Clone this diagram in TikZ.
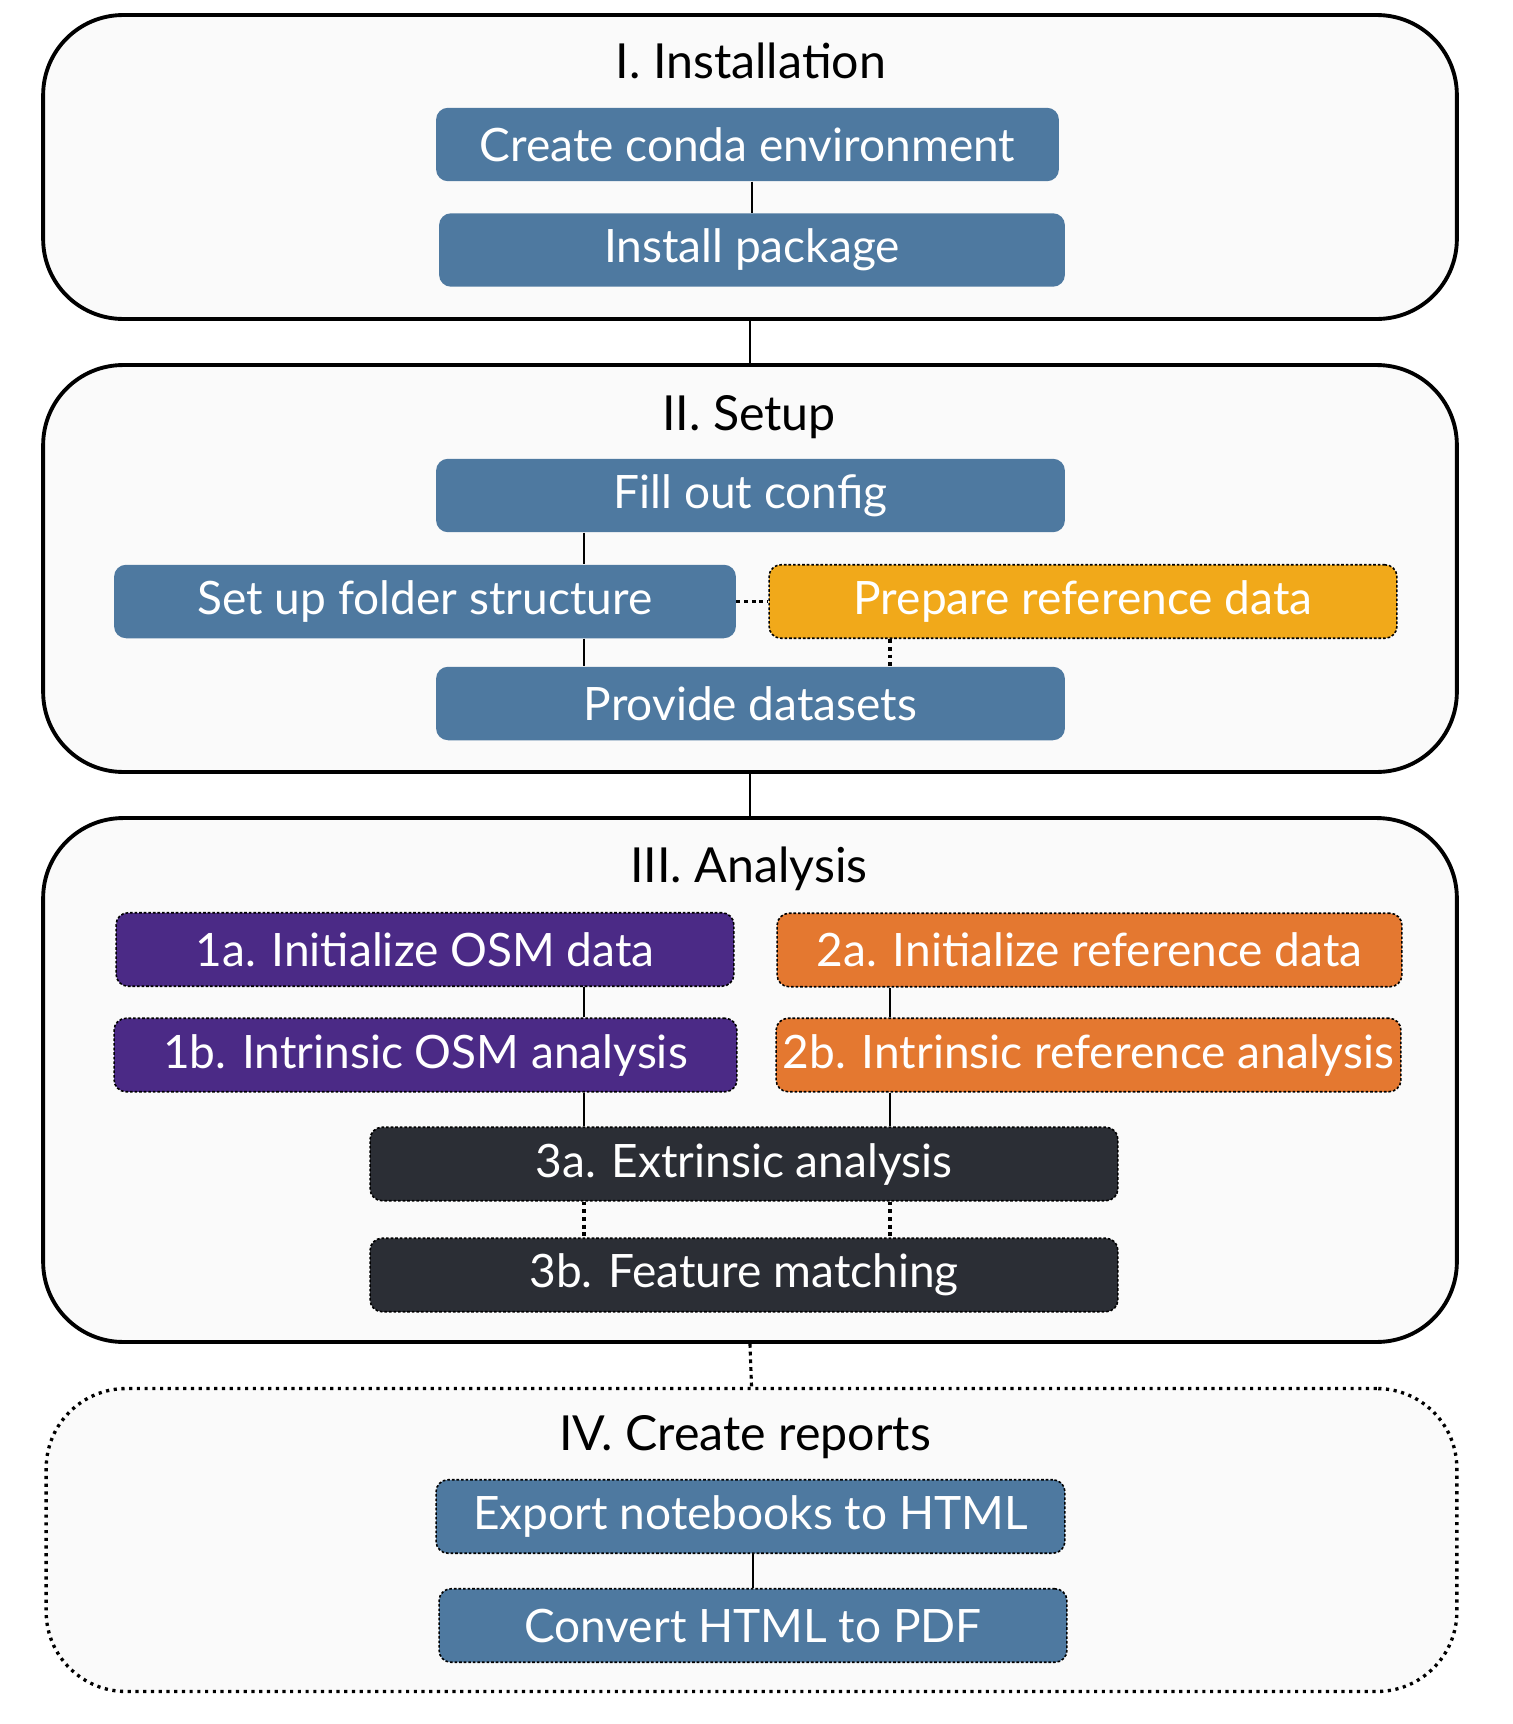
\documentclass[tikz,border=0pt]{standalone}
\usepackage{fontspec}
\setmainfont{Lato}
\usetikzlibrary{positioning}

\definecolor{steel}{HTML}{4E79A0}
\definecolor{amber}{HTML}{F1A91A}
\definecolor{carrot}{HTML}{E47830}
\definecolor{grape}{HTML}{4B2A86}
\definecolor{coal}{HTML}{2B2E35}
\definecolor{paper}{HTML}{FAFAFA}

\begin{document}
\begin{tikzpicture}[x=0.02cm,y=-0.02cm,
  stage/.style={draw,line width=2.2pt,rounded corners=1.6cm,fill=paper,
    minimum width=28.28cm,inner sep=0pt},
  stagedots/.style={stage,line width=1.9pt,dash pattern=on 1.8pt off 2.6pt},
  title/.style={anchor=base,font=\fontsize{27.5}{32}\selectfont},
  task/.style={fill=steel,text=white,rounded corners=0.24cm,minimum width=12.58cm,
    minimum height=1.47cm,inner sep=0pt,font=\fontsize{26.2}{30}\selectfont},
  opt/.style={task,draw=black,line width=0.9pt,dash pattern=on 1.5pt off 1.1pt},
  link/.style={line width=1.2pt},
  linkdots/.style={line width=1.8pt,dash pattern=on 2.2pt off 2.2pt}]

	\useasboundingbox (0,0) rectangle (1512,1724);

	%stages
	\node[stage,minimum height=6.08cm] (inst) at (750,167) {};
	\node[stage,minimum height=8.14cm] (setup) at (750,568.5) {};
	\node[stage,minimum height=10.48cm] (ana) at (750,1080) {};
	\node[stagedots,minimum height=6.06cm,minimum width=28.22cm] (rep) at (751.5,1540) {};

	%stage labels
	\node[title] (instT) at (751,78) {I. Installation};
	\node[title] (setupT) at (749,430) {II. Setup};
	\node[title] (anaT) at (749,882) {III. Analysis};
	\node[title] (repT) at (745,1450) {IV. Create reports};

	%columns for the connectors
	\coordinate (colL) at (584,0);
	\coordinate (colR) at (890,0);

	%I. Installation
	\node[task,minimum width=12.46cm] (conda) at (747.5,144.5) {Create conda environment};
	\node[task,minimum width=12.52cm] (pkg) at (752,250) {Install package};

	%II. Setup
	\node[task] (config) at (750.5,495.5) {Fill out config};
	\node[task,minimum width=12.44cm] (folders) at (425,601.5) {Set up folder structure};
	\node[opt,fill=amber,minimum width=12.56cm] (refprep) at (1083,601.5) {Prepare reference data};
	\node[task] (datasets) at (750.5,703.5) {Provide datasets};

	%III. Analysis
	\node[opt,fill=grape,minimum width=12.36cm] (osmA) at (425,949.5) {1a. Initialize OSM data};
	\node[opt,fill=carrot,minimum width=12.5cm] (refA) at (1089.5,950) {2a. Initialize reference data};
	\node[opt,fill=grape,minimum width=12.46cm] (osmB) at (425.5,1055) {1b. Intrinsic OSM analysis};
	\node[opt,fill=carrot,minimum width=12.5cm] (refB) at (1088.5,1055) {2b. Intrinsic reference analysis};
	\node[opt,fill=coal,minimum width=14.96cm] (extr) at (744,1164) {3a. Extrinsic analysis};
	\node[opt,fill=coal,minimum width=14.96cm] (match) at (744,1275) {3b. Feature matching};

	%IV. Create reports
	\node[opt] (html) at (750.5,1516.5) {Export notebooks to HTML};
	\node[opt,minimum width=12.56cm] (pdf) at (753,1625.5) {Convert HTML to PDF};

	%connectors between stages
	\draw[link] (inst.south) -- (setup.north);
	\draw[link] (setup.south) -- (ana.north);
	\draw[linkdots] (ana.south) -- (rep.north);

	%connectors inside the stages
	\draw[link] (conda.south -| pkg) -- (pkg.north);
	\draw[link] (config.south -| colL) -- (folders.north -| colL);
	\draw[link] (folders.south -| colL) -- (datasets.north -| colL);
	\draw[linkdots] (folders.east) -- (refprep.west);
	\draw[linkdots] (refprep.south -| colR) -- (datasets.north -| colR);
	\draw[link] (osmA.south -| colL) -- (osmB.north -| colL);
	\draw[link] (refA.south -| colR) -- (refB.north -| colR);
	\draw[link] (osmB.south -| colL) -- (extr.north -| colL);
	\draw[link] (refB.south -| colR) -- (extr.north -| colR);
	\draw[linkdots] (extr.south -| colL) -- (match.north -| colL);
	\draw[linkdots] (extr.south -| colR) -- (match.north -| colR);
	\draw[link] (html.south -| pdf) -- (pdf.north);

\end{tikzpicture}
\end{document}
